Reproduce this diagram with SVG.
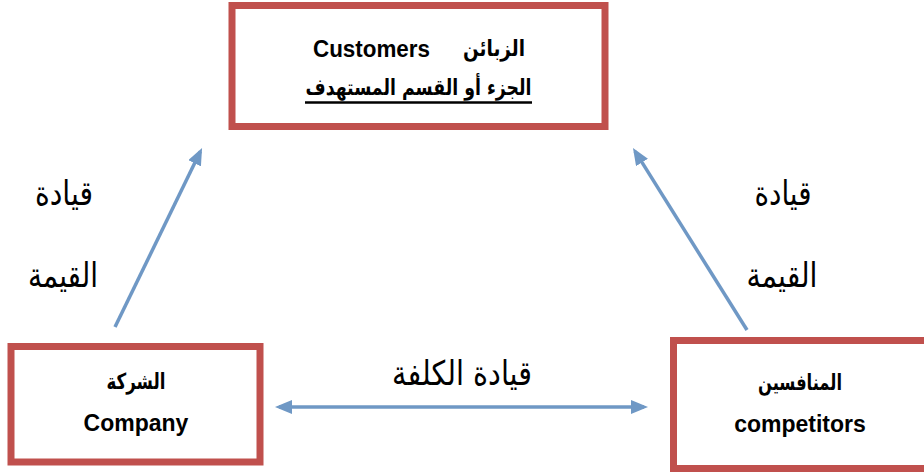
<svg xmlns="http://www.w3.org/2000/svg" width="924" height="474" viewBox="0 0 924 474">
<style>
.box{fill:#ffffff;stroke:#c0504d;stroke-width:7}
.en{font-family:"Liberation Sans",Arial,sans-serif;font-weight:bold;font-size:23px;fill:#000}
.ar{font-family:"DejaVu Sans","Liberation Sans",sans-serif;font-weight:bold;font-size:22px;fill:#000}
.lbl{font-family:"DejaVu Sans","Liberation Sans",sans-serif;font-size:34px;fill:#000}
.con{stroke:#6f98c5;stroke-width:3.5;fill:none;marker-end:url(#ah)}
</style>
<defs>
<marker id="ah" markerUnits="userSpaceOnUse" markerWidth="17" markerHeight="14" refX="13" refY="7" orient="auto-start-reverse">
<path d="M0,0 L17,7 L0,14 z" fill="#6f98c5"/>
</marker>
</defs>
<rect width="924" height="474" fill="#ffffff"/>
<g id="connectors">
<line class="con" x1="115" y1="327" x2="200.3" y2="151.6"/>
<line class="con" x1="747" y1="330" x2="635.1" y2="151.4"/>
<line class="con" x1="279" y1="407" x2="644" y2="407" style="marker-start:url(#ah)"/>
<text class="lbl" x="64" y="205" text-anchor="middle" textLength="58" lengthAdjust="spacingAndGlyphs">قيادة</text>
<text class="lbl" x="63" y="287" text-anchor="middle" textLength="70" lengthAdjust="spacingAndGlyphs">القيمة</text>
<text class="lbl" x="783" y="205" text-anchor="middle" textLength="57" lengthAdjust="spacingAndGlyphs">قيادة</text>
<text class="lbl" x="782" y="287" text-anchor="middle" textLength="71" lengthAdjust="spacingAndGlyphs">القيمة</text>
<text class="lbl" x="462" y="385" text-anchor="middle" textLength="140" lengthAdjust="spacingAndGlyphs">قيادة الكلفة</text>
</g>
<g id="customers">
<rect class="box" x="232" y="5.5" width="373" height="121"/>
<text class="en" x="371.5" y="57" text-anchor="middle" textLength="117" lengthAdjust="spacingAndGlyphs">Customers</text>
<text class="ar" x="494" y="56" text-anchor="middle" textLength="62" lengthAdjust="spacingAndGlyphs">الزبائن</text>
<text class="ar" x="418.5" y="95" text-anchor="middle" textLength="226" lengthAdjust="spacingAndGlyphs">الجزء أو القسم المستهدف</text>
<line x1="305" y1="102.5" x2="532" y2="102.5" stroke="#000" stroke-width="2.5"/>
</g>
<g id="company">
<rect class="box" x="11" y="346.5" width="249" height="115.5"/>
<text class="ar" x="136" y="389" text-anchor="middle" textLength="59" lengthAdjust="spacingAndGlyphs">الشركة</text>
<text class="en" x="136" y="431" text-anchor="middle">Company</text>
</g>
<g id="competitors">
<rect class="box" x="673.5" y="340.5" width="270" height="128"/>
<text class="ar" x="800" y="390" text-anchor="middle" textLength="84" lengthAdjust="spacingAndGlyphs">المنافسين</text>
<text class="en" x="800" y="432" text-anchor="middle">competitors</text>
</g>
</svg>
